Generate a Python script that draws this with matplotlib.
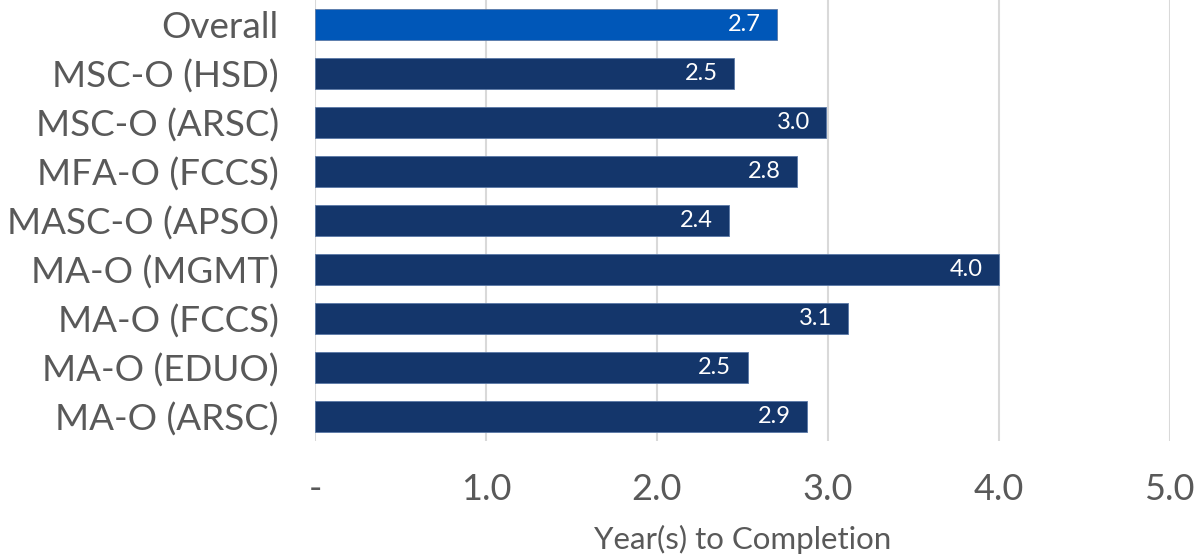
import matplotlib.pyplot as plt
import numpy as np

# programmes, top to bottom as shown
programs = ['Overall', 'MSC-O (HSD)', 'MSC-O (ARSC)', 'MFA-O (FCCS)', 'MASC-O (APSO)',
            'MA-O (MGMT)', 'MA-O (FCCS)', 'MA-O (EDUO)', 'MA-O (ARSC)']
years = [2.70, 2.45, 2.99, 2.82, 2.42, 4.00, 3.12, 2.53, 2.88]
xticks = [0, 1, 2, 3, 4, 5]
xtick_labels = ['-', '1.0', '2.0', '3.0', '4.0', '5.0']

plt.rcParams['font.family'] = ['Lato', 'DejaVu Sans']
grey = '#595959'

fig = plt.figure(figsize=(12.01, 5.56), dpi=100)
ax = fig.add_axes([0.2623, 0.207, 0.974 - 0.2623, 0.793])

y_pos = np.arange(len(programs))[::-1]
colors = ['#0057B8'] + ['#14366B'] * (len(programs) - 1)
bars = ax.barh(y_pos, years, height=0.63, color=colors, edgecolor='#5a78a6',
               linewidth=0.6, zorder=3)

for b, v in zip(bars, years):
    ax.text(b.get_width() - 0.095, b.get_y() + b.get_height() / 2, f'{v:.1f}',
            ha='right', va='center', color='white', fontsize=17, zorder=4)

ax.set_xlim(0, 5)
ax.set_ylim(-0.5, len(programs) - 0.5)
ax.set_xticks(xticks)
ax.set_xticklabels(xtick_labels, fontsize=26, color=grey)
ax.set_yticks(y_pos)
ax.set_yticklabels(programs, fontsize=26.5, color=grey)
ax.tick_params(axis='x', length=0, pad=23)
ax.tick_params(axis='y', length=0, pad=26)
ax.grid(axis='x', color='#d9d9d9', linewidth=1.5, zorder=0)
for s in ax.spines.values():
    s.set_visible(False)
ax.set_xlabel('Year(s) to Completion', fontsize=22.5, color=grey, labelpad=14)

fig.savefig('out.png', dpi=100)
